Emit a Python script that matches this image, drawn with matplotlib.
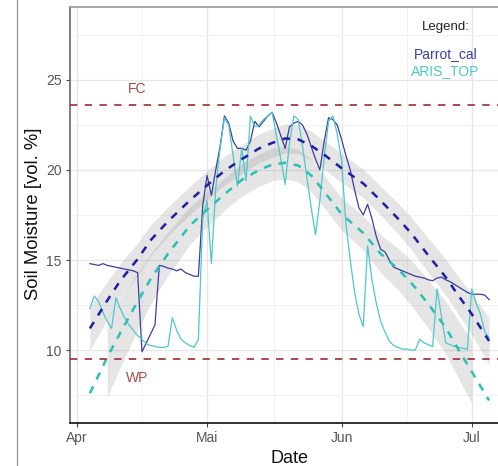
import numpy as np
import pandas as pd
import matplotlib
matplotlib.use("Agg")
import matplotlib.pyplot as plt
import matplotlib.dates as mdates
from matplotlib.lines import Line2D

plt.rcParams['font.family'] = ['Liberation Sans', 'DejaVu Sans']
plt.rcParams['lines.scale_dashes'] = False

# Daily soil moisture series
dates = pd.date_range('2019-04-04', '2019-07-05', freq='D')

parrot_cal = [
    14.8, 14.75, 14.7, 14.8, 14.7, 14.65, 14.6, 14.55, 14.5, 14.45,   # Apr 4-13
    14.4, 14.3, 9.9, 10.4, 10.9, 11.4, 14.7, 14.65, 14.55, 14.5,     # Apr 14-23
    14.4, 14.5, 14.3, 14.2, 14.1, 14.1, 18.0,                        # Apr 24-30
    19.7, 18.6, 20.0, 21.3, 23.0, 22.6, 21.6, 21.2, 21.2, 21.1,      # May 1-10
    21.6, 22.7, 22.4, 22.7, 23.0, 23.2, 22.6, 21.9, 21.2, 22.4,      # May 11-20
    22.6, 22.7, 22.5, 22.0, 21.3, 20.6, 20.0, 21.6, 22.9, 22.8,      # May 21-30
    22.5,                                                            # May 31
    21.7, 20.8, 20.0, 18.9, 17.9, 17.5, 18.1, 17.3, 16.3, 15.6,      # Jun 1-10
    15.45, 15.0, 14.6, 14.5, 14.4, 14.3, 14.2, 14.1, 14.05, 14.0,    # Jun 11-20
    13.9, 13.85, 14.0, 14.05, 13.9, 13.8, 13.65, 13.5, 13.35, 13.2,  # Jun 21-30
    13.1, 13.1, 13.1, 13.05, 12.8,                                   # Jul 1-5
]

aris_top = [
    12.3, 13.0, 12.7, 12.1, 11.6, 11.2, 12.9, 12.3, 11.8, 11.4,      # Apr 4-13
    11.1, 10.8, 10.6, 10.35, 10.25, 10.2, 10.15, 10.15, 10.2, 11.8,  # Apr 14-23
    11.1, 10.6, 10.4, 10.25, 10.15, 10.6, 17.3,                      # Apr 24-30
    18.3, 14.8, 19.0, 21.2, 22.9, 22.5, 20.8, 19.1, 21.2, 19.4,      # May 1-10
    23.0, 22.4, 22.5, 22.8, 23.0, 23.2, 21.9, 20.6, 19.2, 21.5,      # May 11-20
    23.0, 22.8, 21.3, 19.6, 17.9, 16.4, 18.3, 20.7, 22.7, 23.0,      # May 21-30
    22.0,                                                            # May 31
    20.5, 17.0, 15.0, 13.2, 12.0, 11.3, 15.8, 13.9, 12.6, 11.6,      # Jun 1-10
    11.0, 10.5, 10.25, 10.15, 10.05, 10.05, 10.0, 10.0, 10.6, 10.4,  # Jun 11-20
    10.3, 10.2, 13.4, 11.9, 10.4, 10.3, 10.2, 10.15, 10.1, 10.05,    # Jun 21-30
    13.4, 12.6, 12.0, 11.0, 10.7,                                    # Jul 1-5
]

# Smoothed trend of each series with its confidence half-width
trend_dates = pd.to_datetime([
    '2019-04-04', '2019-04-08', '2019-04-11', '2019-04-15', '2019-04-18',
    '2019-04-22', '2019-04-27', '2019-05-01', '2019-05-05', '2019-05-09',
    '2019-05-13', '2019-05-16', '2019-05-19', '2019-05-22', '2019-05-25',
    '2019-05-28', '2019-06-01', '2019-06-06', '2019-06-10', '2019-06-14',
    '2019-06-17', '2019-06-21', '2019-06-25', '2019-06-28', '2019-07-01',
    '2019-07-05',
])
parrot_trend = [11.2, 12.75, 13.85, 15.05, 16.1, 17.15, 18.3, 19.15, 19.95,
                20.6, 21.2, 21.5, 21.75, 21.7, 21.35, 20.85, 20.1, 19.25,
                18.3, 17.3, 16.5, 15.25, 14.05, 13.0, 12.0, 10.5]
parrot_ci = [1.2, 1.05, 0.95, 0.9, 0.85, 0.8, 0.8, 0.8, 0.8, 0.8, 0.8, 0.8,
             0.8, 0.8, 0.8, 0.8, 0.8, 0.8, 0.8, 0.85, 0.9, 0.95, 1.0, 1.05,
             1.15, 1.3]
aris_trend = [7.6, 9.6, 10.95, 12.7, 13.95, 15.35, 16.9, 17.8, 18.65, 19.45,
              20.0, 20.3, 20.4, 20.25, 19.7, 18.8, 17.55, 16.5, 15.35, 14.5,
              13.75, 12.55, 11.25, 10.0, 8.8, 7.2]
aris_ci = [2.5, 2.2, 1.9, 1.6, 1.4, 1.2, 1.05, 0.95, 0.9, 0.9, 0.9, 0.9, 0.9,
           0.9, 0.9, 0.9, 0.9, 0.95, 1.05, 1.15, 1.25, 1.35, 1.45, 1.6, 1.75,
           2.1]

series_names = ['Parrot_cal', 'ARIS_TOP']
line_colors = ['#3d3d9e', '#4ec8c8']
fit_colors = ['#1f1fa6', '#2cbfb4']

fc_value = 23.6
wp_value = 9.5
y_limits = (7, 28)

month_ticks = ['2019-04-01', '2019-05-01', '2019-06-01', '2019-07-01']
month_labels = ['Apr', 'Mai', 'Jun', 'Jul']
y_ticks = [10, 15, 20, 25]

W, H = 498, 466
fig = plt.figure(figsize=(W / 100, H / 100), dpi=100)
ax = fig.add_axes([70 / W, 43 / H, (509 - 70) / W, (H - 7 - 43) / H])

xnum = mdates.date2num(dates)
tnum = mdates.date2num(trend_dates)

# Confidence ribbons, dropped where they leave the scale limits
for trend, ci in [(parrot_trend, parrot_ci), (aris_trend, aris_ci)]:
    t = np.asarray(trend)
    c = np.asarray(ci)
    lo, hi = t - c, t + c
    ok = (lo >= y_limits[0]) & (hi <= y_limits[1])
    ax.fill_between(tnum, lo, hi, where=ok, color='#999999', alpha=0.25,
                    lw=0, zorder=2)

for vals, lc in zip([parrot_cal, aris_top], line_colors):
    ax.plot(xnum, vals, color=lc, lw=0.9, zorder=3)

for trend, fc in zip([parrot_trend, aris_trend], fit_colors):
    ax.plot(tnum, trend, color=fc, lw=1.8, dashes=(5.5, 5.5), zorder=4)

# Field capacity and wilting point
ax.axhline(fc_value, color='#a83a3a', lw=1.3, dashes=(5.3, 5.3), zorder=4)
ax.axhline(wp_value, color='#a83a3a', lw=1.3, dashes=(5.3, 5.3), zorder=4)
lab_x = mdates.date2num(pd.Timestamp('2019-04-15'))
ax.text(lab_x, 24.5, 'FC', color='#a44a4a', fontsize=10, ha='center', va='center')
ax.text(lab_x, 8.45, 'WP', color='#a44a4a', fontsize=10, ha='center', va='center')

# Axes limits, ticks and grid
ax.set_xlim(mdates.date2num(pd.Timestamp('2019-03-30 10:00')),
            mdates.date2num(pd.Timestamp('2019-07-09 14:00')))
pad = 0.05 * (y_limits[1] - y_limits[0])
ax.set_ylim(y_limits[0] - pad, y_limits[1] + pad)
major_x = mdates.date2num(pd.to_datetime(month_ticks))
ax.set_xticks(major_x)
ax.set_xticklabels(month_labels)
ax.set_xticks((major_x[:-1] + major_x[1:]) / 2, minor=True)
ax.set_yticks(y_ticks)
ax.set_yticklabels([str(v) for v in y_ticks])
ax.set_yticks([7.5, 12.5, 17.5, 22.5, 27.5], minor=True)
ax.grid(which='major', color='#e6e6e6', lw=0.9, zorder=0)
ax.grid(which='minor', color='#f0f0f0', lw=0.6, zorder=0)
ax.set_axisbelow(True)
ax.tick_params(which='major', length=3, width=0.8, color='#444444',
               labelcolor='#555555', labelsize=10, pad=3)
ax.tick_params(which='minor', length=0)

for side in ['top', 'right']:
    ax.spines[side].set_color('#9a9a9a')
    ax.spines[side].set_linewidth(1.2)
ax.spines['left'].set_color('#666666')
ax.spines['left'].set_linewidth(1.2)
ax.spines['bottom'].set_color('#222222')
ax.spines['bottom'].set_linewidth(1.3)

# Axis titles
fig.text(34 / W, (H - 214) / H, 'Soil Moisture [vol. %]', rotation=90,
         ha='center', va='center', fontsize=13.3, color='#111111')
fig.text(289.5 / W, 3 / H, 'Date', ha='center', va='baseline',
         fontsize=13, color='#111111')

# Legend block
fig.text(445.5 / W, (H - 27) / H, 'Legend:', ha='center', va='center',
         fontsize=9.5, color='#222222')
fig.text(445.5 / W, (H - 54) / H, series_names[0], ha='center', va='center',
         fontsize=10, color='#3d3da6')
fig.text(445.5 / W, (H - 71.5) / H, series_names[1], ha='center', va='center',
         fontsize=10, color='#4ec8c8')

# Outer frame edge on the left
fig.add_artist(Line2D([16.5 / W, 16.5 / W], [0, 1], transform=fig.transFigure,
                      color='#a0a0a0', lw=1.0))

fig.savefig('out.png', dpi=100)
